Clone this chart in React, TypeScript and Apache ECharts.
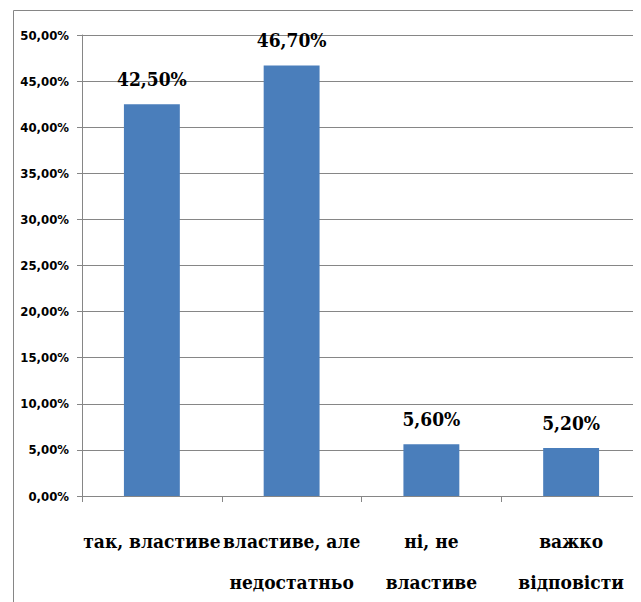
import React, { useEffect, useRef } from "react";
import * as echarts from "echarts";

const categories = [
  "так, властиве",
  "властиве, але\nнедостатньо",
  "ні, не\nвластиве",
  "важко\nвідповісти",
];
const shares = [42.5, 46.7, 5.6, 5.2];
const axisMin = 0;
const axisMax = 50;
const axisStep = 5;

const fmt = (v: number) => v.toFixed(2).replace(".", ",") + "%";

const serifFont = "DejaVu Serif Condensed";
const sansFont = "DejaVu Sans Condensed";

export default function App() {
  const ref = useRef<HTMLDivElement>(null);

  useEffect(() => {
    if (!ref.current) return;
    const chart = echarts.init(ref.current, null, { renderer: "svg" });
    chart.setOption({
      animation: false,
      backgroundColor: "#ffffff",
      grid: { left: 82, top: 35, bottom: 105, right: -15, containLabel: false },
      xAxis: {
        type: "category",
        data: categories,
        axisLine: { lineStyle: { color: "#868686", width: 1 } },
        axisTick: { show: true, length: 6, lineStyle: { color: "#868686" } },
        axisLabel: {
          interval: 0,
          margin: 24,
          color: "#000",
          fontFamily: serifFont,
          fontWeight: "bold",
          fontSize: 19,
          lineHeight: 41,
        },
      },
      yAxis: {
        type: "value",
        min: axisMin,
        max: axisMax,
        interval: axisStep,
        axisLine: { show: true, lineStyle: { color: "#868686", width: 1 } },
        axisTick: { show: true, length: 5, lineStyle: { color: "#868686" } },
        splitLine: { lineStyle: { color: "#868686", width: 1 } },
        axisLabel: {
          margin: 13,
          color: "#000",
          fontFamily: sansFont,
          fontWeight: "bold",
          fontSize: 13,
          formatter: (v: number) => fmt(v),
        },
      },
      series: [
        {
          type: "bar",
          data: shares,
          barWidth: "40%",
          itemStyle: { color: "#4a7ebb" },
          label: {
            show: true,
            position: "top",
            distance: 16,
            color: "#000",
            fontFamily: serifFont,
            fontWeight: "bold",
            fontSize: 19,
            formatter: (p: any) => fmt(p.value),
          },
        },
      ],
      graphic: [
        {
          type: "rect",
          z: 100,
          shape: { x: 13.5, y: 10.5, width: 800, height: 800 },
          style: { fill: "none", stroke: "#868686", lineWidth: 1 },
        },
        {
          type: "rect",
          z: 101,
          shape: { x: 633, y: 0, width: 20, height: 602 },
          style: { fill: "#ffffff" },
        },
      ],
    });
    return () => chart.dispose();
  }, []);

  return (
    <div
      ref={ref}
      style={{ position: "absolute", left: 0, top: 0, width: 641, height: 602 }}
    />
  );
}
